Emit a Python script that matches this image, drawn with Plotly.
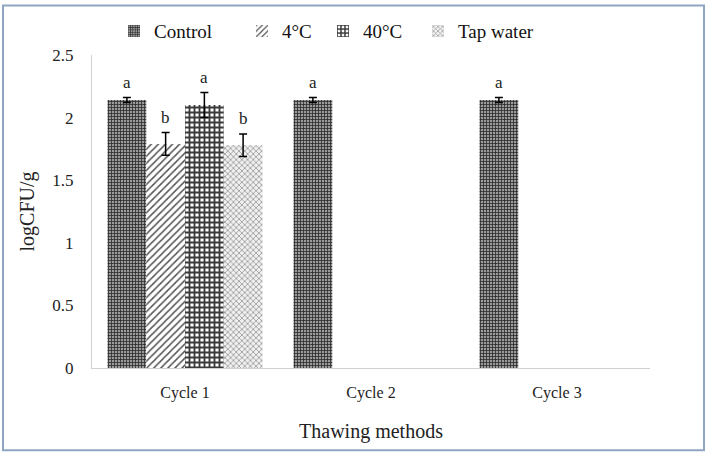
import plotly.graph_objects as go

categories = ["Cycle 1", "Cycle 2", "Cycle 3"]
series_names = ["Control", "4°C", "40°C", "Tap water"]
control_vals = [2.14, 2.14, 2.14]
cold_vals = [1.79, None, None]
warm_vals = [2.10, None, None]
tap_vals = [1.78, None, None]
control_err = [0.02, 0.02, 0.02]
cold_err = [0.09, None, None]
warm_err = [0.10, None, None]
tap_err = [0.09, None, None]
control_letters = ["a", "a", "a"]
cold_letters = ["b", None, None]
warm_letters = ["a", None, None]
tap_letters = ["b", None, None]

values = [control_vals, cold_vals, warm_vals, tap_vals]
errors = [control_err, cold_err, warm_err, tap_err]
letters = [control_letters, cold_letters, warm_letters, tap_letters]

styles = [
    dict(shape="+", fg="#2a2a2a", bg="#9a9a9a", size=3, solidity=0.45),
    dict(shape="/", fg="#555555", bg="#ffffff", size=5, solidity=0.3),
    dict(shape="+", fg="#3a3a3a", bg="#ffffff", size=5, solidity=0.6),
    dict(shape="x", fg="#a0a0a0", bg="#f0f0f0", size=4, solidity=0.4),
]

FONT = "Liberation Serif"
W, L, R, T, B, H = 707, 92, 57, 52, 86, 454
pw = W - L - R
ph = H - T - B
def px_x(p):
    return (p - L) / pw
def px_y(p):
    return (H - B - p) / ph

legend_ids = ["legend", "legend2", "legend3", "legend4"]
legend_px = [114, 242, 323, 418]

fig = go.Figure()
for name, vals, errs, st, lid in zip(series_names, values, errors, styles, legend_ids):
    fig.add_trace(go.Bar(
        name=name, x=categories, y=vals, legend=lid, showlegend=True,
        marker=dict(color=st["bg"], line=dict(width=0),
                    pattern=dict(shape=st["shape"], fgcolor=st["fg"], bgcolor=st["bg"],
                                 size=st["size"], solidity=st["solidity"], fillmode="replace")),
        error_y=dict(type="data", array=errs, visible=True, color="black", thickness=1.5, width=4),
    ))

cat_w = pw / len(categories)
bargap = 0.167
bar_w = cat_w * (1 - bargap) / 4
offsets = [(-1.5 + i) * bar_w for i in range(4)]

annotations = []
for i, (vals, errs, lets) in enumerate(zip(values, errors, letters)):
    for c, v, e, t in zip(categories, vals, errs, lets):
        if v is None or t is None:
            continue
        annotations.append(dict(x=c, y=v + e, text=t, showarrow=False, xref="x", yref="y",
                                xshift=offsets[i], yanchor="bottom", yshift=4,
                                font=dict(family=FONT, size=17, color="#222")))

legend_layouts = {}
for lid, lx in zip(legend_ids, legend_px):
    legend_layouts[lid] = dict(orientation="h", x=px_x(lx), xanchor="left", y=px_y(28),
                               yanchor="middle", bgcolor="rgba(0,0,0,0)",
                               font=dict(family=FONT, size=19, color="#111"), itemwidth=30)

fig.update_layout(
    width=W, height=H,
    margin=dict(l=L, r=R, t=T, b=B),
    paper_bgcolor="white", plot_bgcolor="white",
    barmode="group", bargap=bargap, bargroupgap=0,
    showlegend=True,
    font=dict(family=FONT, size=14, color="#222"),
    annotations=annotations,
    shapes=[dict(type="rect", xref="paper", yref="paper",
                 x0=px_x(3), x1=px_x(704), y0=px_y(451), y1=px_y(2),
                 line=dict(color="#8ea6c2", width=2))],
    **legend_layouts,
)
fig.update_yaxes(range=[0, 2.5], dtick=0.5, showline=True, linecolor="#d0d0d0", linewidth=1,
                 showgrid=False, zeroline=False, ticks="", ticklabelstandoff=14,
                 tickfont=dict(family=FONT, size=17),
                 title=dict(text="logCFU/g", font=dict(family=FONT, size=20), standoff=12))
fig.update_xaxes(showline=True, linecolor="#d0d0d0", linewidth=1, ticks="",
                 ticklabelstandoff=10, tickfont=dict(family=FONT, size=16),
                 title=dict(text="Thawing methods", font=dict(family=FONT, size=20), standoff=22))

fig.write_html("out.html", post_script="document.body.style.margin='0';",
               config={"displayModeBar": False})
